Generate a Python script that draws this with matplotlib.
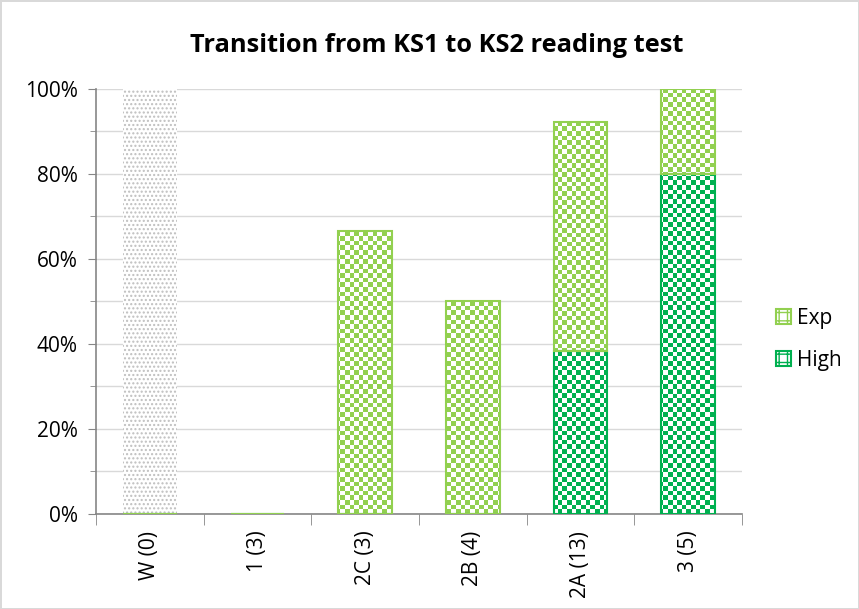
import numpy as np
import matplotlib.pyplot as plt
from matplotlib.patches import Patch
from matplotlib.ticker import MultipleLocator, PercentFormatter

plt.rcParams['font.family'] = ['Open Sans', 'DejaVu Sans']

categories = ['W (0)', '1 (3)', '2C (3)', '2B (4)', '2A (13)', '3 (5)']
high = [0, 0, 0, 0, 5 / 13, 4 / 5]
exp = [0, 0, 2 / 3, 2 / 4, 7 / 13, 1 / 5]
working_towards = [1, 0, 0, 0, 0, 0]

c_exp = '#92D050'
c_high = '#00B050'
c_grey = '#BFBFBF'

fig = plt.figure(figsize=(8.59, 6.09), dpi=100)
fig.patch.set_edgecolor('#D9D9D9')
fig.patch.set_linewidth(2)
ax = fig.add_axes([0.1118, 0.156, 0.752, 0.698])

x = np.arange(len(categories))
w = 0.5


def checker(color, cell=4.6):
    # checkerboard texture sized in screen pixels across the whole axes
    bb = ax.get_window_extent()
    nx, ny = int(bb.width / cell), int(bb.height / cell)
    board = np.indices((ny, nx)).sum(0) % 2
    rgb = np.array(plt.matplotlib.colors.to_rgb(color))
    img = np.ones((ny, nx, 3))
    img[board == 1] = rgb
    return img


def textured_bars(vals, bottoms, color):
    bars = ax.bar(x, vals, w, bottom=bottoms, facecolor='none',
                  edgecolor=color, linewidth=1.5, zorder=3)
    tex = checker(color)
    for b, v in zip(bars, vals):
        if v <= 0:
            continue
        im = ax.imshow(tex, extent=(-0.5, len(x) - 0.5, 0, 1), aspect='auto',
                       interpolation='nearest', zorder=2)
        im.set_clip_path(b)
    return bars


# grey dotted bar for W
ax.bar(x, working_towards, w, facecolor='white', edgecolor=c_grey,
       linewidth=0, hatch='....', zorder=2)
textured_bars(high, [0] * len(x), c_high)
textured_bars(exp, high, c_exp)

ax.set_xlim(-0.5, len(x) - 0.5)
ax.set_ylim(0, 1)
ax.set_aspect('auto')

ax.yaxis.set_major_locator(MultipleLocator(0.2))
ax.yaxis.set_minor_locator(MultipleLocator(0.1))
ax.yaxis.set_major_formatter(PercentFormatter(1.0, decimals=0))
ax.grid(axis='y', which='both', color='#D9D9D9', linewidth=1, zorder=0)
ax.set_axisbelow(True)
ax.tick_params(axis='y', which='major', length=6, color='#868686',
               labelsize=15, pad=7)
ax.tick_params(axis='y', which='minor', length=4, color='#868686')

ax.set_xticks(x)
ax.set_xticklabels(categories, rotation=90, fontsize=15)
ax.set_xticks(np.arange(len(x) + 1) - 0.5, minor=True)
ax.tick_params(axis='x', which='major', length=0, pad=12)
ax.tick_params(axis='x', which='minor', length=8, color='#868686')

for s in ['top', 'right']:
    ax.spines[s].set_visible(False)
for s in ['left', 'bottom']:
    ax.spines[s].set_color('#868686')
    ax.spines[s].set_linewidth(1.2)

fig.text(0.509, 0.925, 'Transition from KS1 to KS2 reading test',
         fontsize=18.3, fontweight='bold', ha='center', va='center')

handles = [Patch(facecolor='white', edgecolor=c_exp, hatch='++', linewidth=1.5),
           Patch(facecolor='white', edgecolor=c_high, hatch='++', linewidth=1.5)]
fig.legend(handles, ['Exp', 'High'], loc='center left',
           bbox_to_anchor=(0.882, 0.443), frameon=False, fontsize=15,
           handlelength=0.7, handleheight=0.7, handletextpad=0.3,
           labelspacing=1.0)

fig.savefig('out.png', dpi=100)
